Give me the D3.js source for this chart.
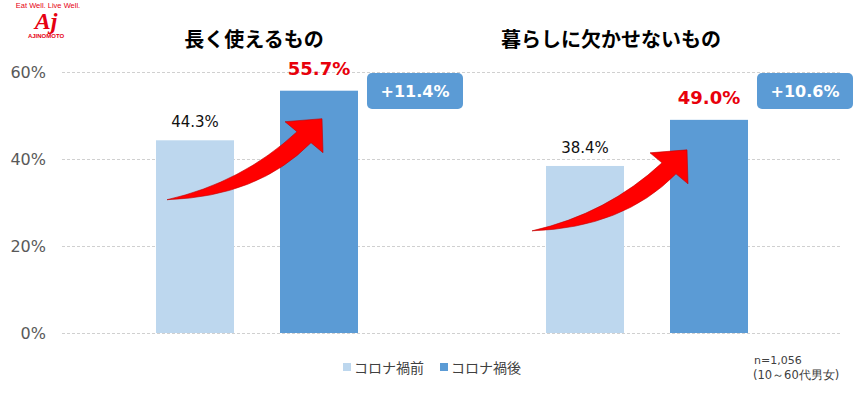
<!DOCTYPE html>
<html>
<head>
<meta charset="utf-8">
<script src="https://cdn.jsdelivr.net/npm/d3@7"></script>
<style>
  body { margin: 0; background: #fff; }
  svg { display: block; }
</style>
</head>
<body>
<svg width="866" height="396"></svg>
<script>
// data
const categories = ["長く使えるもの", "暮らしに欠かせないもの"];
const series = ["コロナ禍前", "コロナ禍後"];
const beforeValues = [0.443, 0.384];
const afterValues = [0.557, 0.49];
const diffLabels = ["+11.4%", "+10.6%"];
const yTicks = [0, 0.2, 0.4, 0.6];

const colors = { "コロナ禍前": "#bdd7ee", "コロナ禍後": "#5b9bd5" };
const titleDx = [-3, -36];
const arrowOffsets = [[42, 28], [17, 30]]; // tip position relative to after-bar

const svg = d3.select("svg");
const font = "'DejaVu Sans', Verdana, sans-serif";
const jp = "'Noto Sans CJK JP', sans-serif";

const x = d3.scaleBand().domain(categories).range([62, 842]);
const xs = d3.scaleBand().domain(series).range([94, 296]).paddingInner(0.371);
const y = d3.scaleLinear().domain([0, 0.6]).range([333, 72]);

// grid
svg.append("g")
	.selectAll("line")
	.data(yTicks)
	.enter()
	.append("line")
	.attr("x1", 62)
	.attr("x2", 842)
	.attr("y1", (d) => y(d) + 0.5)
	.attr("y2", (d) => y(d) + 0.5)
	.attr("stroke", "#d0d0d0")
	.attr("stroke-dasharray", "3,2");

svg.append("g")
	.selectAll("text")
	.data(yTicks)
	.enter()
	.append("text")
	.attr("x", 46)
	.attr("y", (d) => y(d) + 6)
	.attr("text-anchor", "end")
	.style("font-family", font)
	.style("font-size", "16px")
	.attr("fill", "#595959")
	.text((d) => d3.format(".0%")(d));

const rows = categories.map((c, i) => ({
	cat: c,
	i,
	vals: [
		{ s: series[0], v: beforeValues[i] },
		{ s: series[1], v: afterValues[i] },
	],
}));

const g = svg.selectAll("g.grp")
	.data(rows)
	.enter()
	.append("g")
	.attr("class", "grp")
	.attr("transform", (d) => `translate(${x(d.cat)},0)`);

// title
g.append("text")
	.attr("x", (d) => x.bandwidth() / 2 + titleDx[d.i])
	.attr("y", 47)
	.attr("text-anchor", "middle")
	.style("font-family", jp)
	.style("font-size", "20px")
	.style("font-weight", "bold")
	.attr("fill", "#000")
	.text((d) => d.cat);

// bars
g.selectAll("rect.bar")
	.data((d) => d.vals)
	.enter()
	.append("rect")
	.attr("class", "bar")
	.attr("x", (d) => xs(d.s))
	.attr("width", xs.bandwidth())
	.attr("y", (d) => y(d.v))
	.attr("height", (d) => y(0) - y(d.v))
	.attr("fill", (d) => colors[d.s]);

// before labels
g.append("text")
	.attr("x", () => xs(series[0]) + xs.bandwidth() / 2)
	.attr("y", (d) => y(d.vals[0].v) - 13)
	.attr("text-anchor", "middle")
	.style("font-family", font)
	.style("font-size", "15px")
	.attr("fill", "#111")
	.text((d) => d3.format(".1%")(d.vals[0].v));

// arrows (shape relative to tip)
const arrowPath =
	"M-155,81 Q-64,78 -11,24 L1,34 L0,0 L-37,3 L-25,13 Q-80,64 -155,81 Z";
g.append("path")
	.attr("d", arrowPath)
	.attr("transform", (d) => {
		const tx = xs(series[1]) + arrowOffsets[d.i][0];
		const ty = y(d.vals[1].v) + arrowOffsets[d.i][1];
		return `translate(${tx},${ty})`;
	})
	.attr("fill", "#ff0000")
	.attr("stroke", "#c00000")
	.attr("stroke-width", 0.6)
	.attr("stroke-linejoin", "miter");

// after labels (red)
g.append("text")
	.attr("x", () => xs(series[1]) + xs.bandwidth() / 2)
	.attr("y", (d) => y(d.vals[1].v) - 16)
	.attr("text-anchor", "middle")
	.style("font-family", font)
	.style("font-size", "18px")
	.style("font-weight", "bold")
	.attr("fill", "#e8000b")
	.text((d) => d3.format(".1%")(d.vals[1].v));

// diff boxes
const bx = xs(series[1]) + xs.bandwidth() + 9;
g.append("rect")
	.attr("x", bx)
	.attr("y", y(0.6) + 1)
	.attr("width", 96)
	.attr("height", 36)
	.attr("rx", 5)
	.attr("fill", "#5b9bd5");
g.append("text")
	.attr("x", bx + 48)
	.attr("y", y(0.6) + 25)
	.attr("text-anchor", "middle")
	.style("font-family", font)
	.style("font-size", "16px")
	.style("font-weight", "bold")
	.attr("fill", "#fff")
	.text((d) => diffLabels[d.i]);

// legend
const legendPos = [343, 440];
const lg = svg.append("g")
	.selectAll("g")
	.data(series)
	.enter()
	.append("g")
	.attr("transform", (d, i) => `translate(${legendPos[i]},363)`);
lg.append("rect")
	.attr("width", 8)
	.attr("height", 8)
	.attr("fill", (d) => colors[d]);
lg.append("text")
	.attr("x", 11)
	.attr("y", 10)
	.style("font-family", jp)
	.style("font-size", "14px")
	.attr("fill", "#404040")
	.text((d) => d);

// note
svg.append("text")
	.attr("x", 754)
	.attr("y", 364)
	.style("font-family", font)
	.style("font-size", "11px")
	.attr("fill", "#404040")
	.text("n=1,056");
svg.append("text")
	.attr("x", 753)
	.attr("y", 379)
	.style("font-family", font)
	.style("font-size", "11.5px")
	.attr("fill", "#404040")
	.text("(10～60代男女)");

// logo
const logo = svg.append("g").attr("fill", "#e60012");
logo.append("text")
	.attr("x", 48).attr("y", 8)
	.attr("text-anchor", "middle")
	.style("font-family", "'Liberation Sans Narrow', 'Liberation Sans', sans-serif")
	.style("font-size", "7.5px")
	.text("Eat Well. Live Well.");
logo.append("text")
	.attr("x", 46).attr("y", 29)
	.attr("text-anchor", "middle")
	.style("font-family", "'Liberation Serif', serif")
	.style("font-size", "24px")
	.style("font-weight", "bold")
	.style("font-style", "italic")
	.text("Aj");
logo.append("text")
	.attr("x", 46).attr("y", 38)
	.attr("text-anchor", "middle")
	.style("font-family", "'Liberation Sans', sans-serif")
	.style("font-size", "6px")
	.style("font-weight", "bold")
	.text("AJINOMOTO");
</script>
</body>
</html>
